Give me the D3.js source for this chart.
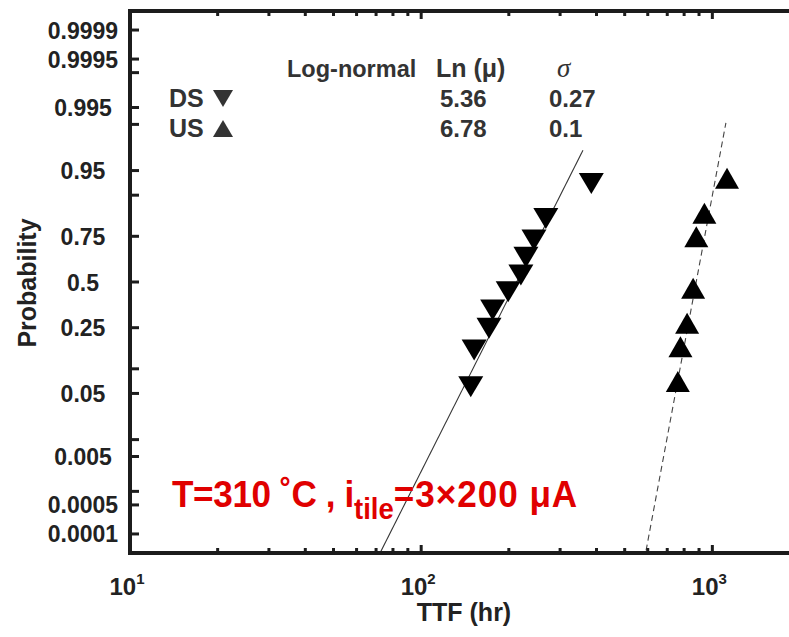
<!DOCTYPE html>
<html><head><meta charset="utf-8">
<script src="https://cdn.jsdelivr.net/npm/d3@7"></script>
<style>body{margin:0;background:#fff} svg{display:block}</style>
</head><body><svg id="c" width="789" height="637"></svg>
<script>
// ---- data ----
const dsTTF  = [148, 152, 171, 176, 199, 220, 229, 244, 268, 384];
const dsProb = [0.061, 0.158, 0.247, 0.34, 0.443, 0.541, 0.642, 0.732, 0.826, 0.927];
const usTTF  = [761, 777, 819, 859, 881, 939, 1123];
const usProb = [0.071, 0.17, 0.271, 0.463, 0.748, 0.845, 0.937];
const fitNames = ["DS", "US"];
const fitLnMu = [5.36, 6.78];
const fitSigma = [0.27, 0.1];
const fitSigmaText = ["0.27", "0.1"];
const fitProbTop = [0.974, 0.9906];
const fitProbBottom = [0.00002, 0.00002];
const yTickLabeled = [0.0001, 0.0005, 0.005, 0.05, 0.25, 0.5, 0.75, 0.95, 0.995, 0.9995, 0.9999];
const yTickLabels = ["0.0001", "0.0005", "0.005", "0.05", "0.25", "0.5", "0.75", "0.95", "0.995", "0.9995", "0.9999"];
const yTickMinor = [0.001, 0.01, 0.1, 0.9, 0.99, 0.999];
const xMajor = [10, 100, 1000];
const xMajorExp = ["1", "2", "3"];
const xMinor = [20,30,40,50,60,70,80,90,200,300,400,500,600,700,800,900,2000];

// inverse normal CDF (Acklam)
function probit(p) {
  const a=[-3.969683028665376e+01,2.209460984245205e+02,-2.759285104469687e+02,1.383577518672690e+02,-3.066479806614716e+01,2.506628277459239e+00];
  const b=[-5.447609879822406e+01,1.615858368580409e+02,-1.556989798598866e+02,6.680131188771972e+01,-1.328068155288572e+01];
  const c=[-7.784894002430293e-03,-3.223964580411365e-01,-2.400758277161838e+00,-2.549732539343734e+00,4.374664141464968e+00,2.938163982698783e+00];
  const d=[7.784695709041462e-03,3.224671290700398e-01,2.445134137142996e+00,3.754408661907416e+00];
  const pl=0.02425, ph=1-pl;
  let q,r;
  if (p<pl){q=Math.sqrt(-2*Math.log(p));return (((((c[0]*q+c[1])*q+c[2])*q+c[3])*q+c[4])*q+c[5])/((((d[0]*q+d[1])*q+d[2])*q+d[3])*q+1);}
  if (p<=ph){q=p-0.5;r=q*q;return (((((a[0]*r+a[1])*r+a[2])*r+a[3])*r+a[4])*r+a[5])*q/(((((b[0]*r+b[1])*r+b[2])*r+b[3])*r+b[4])*r+1);}
  q=Math.sqrt(-2*Math.log(1-p));return -(((((c[0]*q+c[1])*q+c[2])*q+c[3])*q+c[4])*q+c[5])/((((d[0]*q+d[1])*q+d[2])*q+d[3])*q+1);
}

const L = 130, R = 800, T = 11, B = 553;
const svg = d3.select("#c");
const x = d3.scaleLog().domain([10, 2000]).range([L, R]);
const yz = d3.scaleLinear().domain([-4, 4]).range([B, T]);
const y = p => yz(probit(p));
const axisColor = "#1c1c1c";
const font = "'Liberation Sans', Arial, sans-serif";

// clip
svg.append("clipPath").attr("id","clip").append("rect")
  .attr("x", L).attr("y", T).attr("width", R - L).attr("height", B - T);

// fit lines
const fitG = svg.append("g").attr("clip-path","url(#clip)");
fitNames.forEach((n,i) => {
  const pts = [fitProbBottom[i], fitProbTop[i]].map(p => [x(Math.exp(fitLnMu[i] + fitSigma[i]*probit(p))), y(p)]);
  fitG.append("path").attr("d", d3.line()(pts))
    .attr("fill","none").attr("stroke", i ? "#444" : "#333").attr("stroke-width", 1.1)
    .attr("stroke-dasharray", i ? "6,4" : null);
});

// triangle path centered on bbox
function tri(w, h, down) {
  const s = down ? -1 : 1;
  return `M${-w/2},${s*h/2}L${w/2},${s*h/2}L0,${-s*h/2}Z`;
}
svg.append("g").selectAll("path").data(d3.zip(dsTTF, dsProb)).join("path")
  .attr("d", tri(25, 21, true)).attr("fill", "#000")
  .attr("transform", d => `translate(${x(d[0])},${y(d[1])})`);
svg.append("g").selectAll("path").data(d3.zip(usTTF, usProb)).join("path")
  .attr("d", tri(24, 21, false)).attr("fill", "#000")
  .attr("transform", d => `translate(${x(d[0])},${y(d[1])})`);

// frame
const frame = svg.append("g").attr("stroke", axisColor).attr("stroke-width", 4).attr("fill","none");
frame.append("path").attr("d", `M${R+20},${T}H${L}V${B}H${R+20}`).attr("stroke-linecap","square");

// y ticks
const yt = svg.append("g").attr("stroke", axisColor).attr("stroke-width", 3);
yTickLabeled.concat(yTickMinor).forEach(p => {
  yt.append("line").attr("x1", L).attr("x2", L + 9).attr("y1", y(p)).attr("y2", y(p));
});
svg.append("g").selectAll("text").data(d3.zip(yTickLabeled, yTickLabels)).join("text")
  .attr("x", 83).attr("y", d => y(d[0]) + 8.5).attr("text-anchor","middle")
  .attr("font-family", font).attr("font-weight","bold").attr("font-size", 23)
  .attr("fill","#222").text(d => d[1]);

// x ticks
const xt = svg.append("g").attr("stroke", axisColor).attr("stroke-width", 3);
xMajor.concat(xMinor).forEach(v => {
  const len = xMajor.includes(v) ? 8 : 5;
  xt.append("line").attr("x1", x(v)).attr("x2", x(v)).attr("y1", B).attr("y2", B - len);
  xt.append("line").attr("x1", x(v)).attr("x2", x(v)).attr("y1", T).attr("y2", T + len);
});
xMajor.forEach((v,i) => {
  const t = svg.append("text").attr("x", x(v) - 3).attr("y", 595).attr("text-anchor","middle")
    .attr("font-family", font).attr("font-weight","bold").attr("font-size", 24).attr("fill","#222");
  t.append("tspan").text("10");
  t.append("tspan").attr("dy", -11).attr("font-size", 15).text(xMajorExp[i]);
});

// axis titles
svg.append("text").attr("x", 464).attr("y", 621).attr("text-anchor","middle")
  .attr("font-family", font).attr("font-weight","bold").attr("font-size", 25).attr("fill","#222")
  .text("TTF (hr)");
svg.append("text").attr("transform","translate(36,283) rotate(-90)").attr("text-anchor","middle")
  .attr("font-family", font).attr("font-weight","bold").attr("font-size", 25).attr("fill","#222")
  .text("Probability");

// legend table
const lg = svg.append("g").attr("font-family", font).attr("font-weight","bold").attr("font-size", 24).attr("fill","#333");
lg.append("text").attr("x", 287).attr("y", 77).attr("font-size", 23.5).text("Log-normal");
lg.append("text").attr("x", 436).attr("y", 77).attr("font-size", 25).text("Ln (μ)");
lg.append("text").attr("x", 557).attr("y", 77).attr("font-family","'Liberation Serif', 'Times New Roman', serif")
  .attr("font-style","italic").attr("font-weight","normal").attr("font-size", 27).text("σ");
fitNames.forEach((n,i) => {
  const by = 107 + i * 30;
  lg.append("text").attr("x", 169).attr("y", by).attr("font-size", 25).text(n);
  lg.append("path").attr("d", tri(20, 17, i === 0)).attr("fill","#333")
    .attr("transform", `translate(223,${by - 8.5})`);
  lg.append("text").attr("x", 440).attr("y", by).text(fitLnMu[i].toFixed(2));
  lg.append("text").attr("x", 549).attr("y", by).text(fitSigmaText[i]);
});

// annotation
const ann = svg.append("text").attr("transform","translate(172,507) scale(0.95,1)")
  .attr("font-family", font).attr("font-weight","bold").attr("font-size", 37).attr("fill","#e00000");
ann.append("tspan").attr("letter-spacing", -0.4).text("T=310 ˚C , i");
ann.append("tspan").attr("dy", 12).attr("font-size", 29).attr("letter-spacing", 0).text("tile");
ann.append("tspan").attr("dy", -12).attr("letter-spacing", 1).text("=3×200 μA");
</script></body></html>
